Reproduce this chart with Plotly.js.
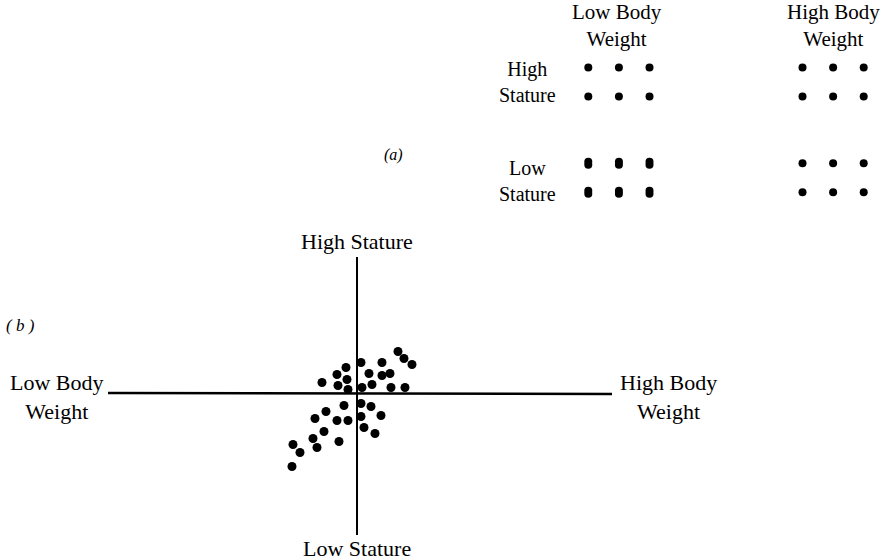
<!DOCTYPE html>
<html><head><meta charset="utf-8">
<script src="https://cdn.plot.ly/plotly-3.0.1.min.js"></script>
<style>html,body{margin:0;padding:0;background:#fff}</style>
</head><body><div id="chart" style="width:890px;height:560px"></div>
<script>
// ---------- Panel (a): schematic grid (column index, row index) ----------
const aLowWeightX  = [0,1,2, 0,1,2, 0,1,2, 0,1,2, 0,1,2, 0,1,2];
const aLowWeightY  = [4.3,4.3,4.3, 3.3,3.3,3.3, 1.05,1.05,1.05, 0.95,0.95,0.95, 0.05,0.05,0.05, -0.05,-0.05,-0.05];
const aHighWeightX = [7,8,9, 7,8,9, 7,8,9, 7,8,9];
const aHighWeightY = [4.3,4.3,4.3, 3.3,3.3,3.3, 1,1,1, 0,0,0];
const aWeightLabels  = ['Low Body<br>Weight', 'High Body<br>Weight'];
const aWeightLabelX  = [0.95, 8];
const aStatureLabels = ['High<br>Stature', 'Low<br>Stature'];
const aStatureLabelY = [3.8, 0.4];

// ---------- Panel (b): scatter (body weight vs stature, centred) ----------
const bWeight  = [4.1, 4.7, 5.5, 0.4, 2.5, -1.1, -2.0, -1.0, 1.2, 2.5, 3.3, -3.5, -1.9, -0.9, 0.5, 1.5, 3.4, 4.8,
                  -1.3, 0.4, 1.4, -3.1, -4.2, -2.0, -0.9, 0.4, 2.4, -3.3, 0.7, 1.8, -4.4, -1.8, -6.4, -4.0, -5.7, -6.5];
const bStature = [4.2, 3.5, 2.9, 3.1, 3.1, 2.6, 1.9, 1.4, 2.0, 1.8, 2.0, 1.1, 0.8, 0.4, 0.6, 0.9, 0.6, 0.6,
                  -1.2, -1.0, -1.3, -1.8, -2.5, -2.7, -2.7, -2.3, -2.2, -3.8, -3.4, -4.0, -4.5, -4.8, -5.1, -5.4, -5.9, -7.3];
const bWeightAxisEnds  = [-24.9, 25.5];
const bStatureAxisEnds = [-14.15, 13.65];
const bAxisLabels = ['High Stature', 'Low Stature', 'Low Body<br>Weight', 'High Body<br>Weight'];

const serif = 'Liberation Serif, Times New Roman, serif';
const ink = '#000';

const traces = [
  {x: bWeight, y: bStature, xaxis: 'x', yaxis: 'y', mode: 'markers', type: 'scatter',
   marker: {color: ink, size: 9}, hoverinfo: 'skip'},
  {x: aLowWeightX, y: aLowWeightY, xaxis: 'x2', yaxis: 'y2', mode: 'markers', type: 'scatter',
   marker: {color: ink, size: 8}, hoverinfo: 'skip'},
  {x: aHighWeightX, y: aHighWeightY, xaxis: 'x2', yaxis: 'y2', mode: 'markers', type: 'scatter',
   marker: {color: ink, size: 8}, hoverinfo: 'skip'}
];

const txt = (size, italic) => ({family: serif, size: size, color: ink, style: italic ? 'italic' : 'normal'});

const annotations = [
  // panel (b) axis labels
  {xref: 'x', yref: 'y', x: 0, y: bStatureAxisEnds[1] + 1.55, text: bAxisLabels[0], showarrow: false, font: txt(22), yanchor: 'middle'},
  {xref: 'x', yref: 'y', x: 0, y: bStatureAxisEnds[0] - 1.35, text: bAxisLabels[1], showarrow: false, font: txt(22), yanchor: 'middle'},
  {xref: 'x', yref: 'y', x: bWeightAxisEnds[0] - 5.1, y: -0.3, text: bAxisLabels[2], showarrow: false, font: txt(22), yanchor: 'middle'},
  {xref: 'x', yref: 'y', x: bWeightAxisEnds[1] + 5.6, y: -0.3, text: bAxisLabels[3], showarrow: false, font: txt(22), yanchor: 'middle'},
  // panel (a) labels
  {xref: 'x2', yref: 'y2', x: aWeightLabelX[0], y: 5.75, text: aWeightLabels[0], showarrow: false, font: txt(21), yanchor: 'middle'},
  {xref: 'x2', yref: 'y2', x: aWeightLabelX[1], y: 5.75, text: aWeightLabels[1], showarrow: false, font: txt(21), yanchor: 'middle'},
  {xref: 'x2', yref: 'y2', x: -2, y: aStatureLabelY[0], text: aStatureLabels[0], showarrow: false, font: txt(20), yanchor: 'middle'},
  {xref: 'x2', yref: 'y2', x: -2, y: aStatureLabelY[1], text: aStatureLabels[1], showarrow: false, font: txt(20), yanchor: 'middle'},
  // panel tags
  {xref: 'paper', yref: 'paper', x: 393/890, y: 1 - 155/560, xanchor: 'center', yanchor: 'middle', text: '(a)', showarrow: false, font: txt(16, true)},
  {xref: 'paper', yref: 'paper', x: 20/890, y: 1 - 325/560, xanchor: 'center', yanchor: 'middle', text: '( b )', showarrow: false, font: txt(17, true)}
];

const shapes = [
  {type: 'line', xref: 'x', yref: 'y', x0: bWeightAxisEnds[0], x1: bWeightAxisEnds[1], y0: 0.05, y1: -0.05,
   line: {color: ink, width: 2.5}},
  {type: 'line', xref: 'x', yref: 'y', x0: 0, x1: 0, y0: bStatureAxisEnds[0], y1: bStatureAxisEnds[1],
   line: {color: ink, width: 2}}
];

const hidden = {visible: false, showgrid: false, zeroline: false, fixedrange: true};
const layout = {
  width: 890, height: 560, autosize: false,
  margin: {l: 0, r: 0, t: 0, b: 0, pad: 0},
  paper_bgcolor: '#fff', plot_bgcolor: '#fff',
  showlegend: false,
  xaxis:  Object.assign({}, hidden, {domain: [0, 1], range: [-35.7, 53.3]}),
  yaxis:  Object.assign({}, hidden, {domain: [0, 1], range: [-16.65, 39.35]}),
  xaxis2: Object.assign({}, hidden, {overlaying: 'x', anchor: 'y2', range: [-19.225, 9.859]}),
  yaxis2: Object.assign({}, hidden, {overlaying: 'y', anchor: 'x2', range: [-12.68, 6.631]}),
  annotations: annotations,
  shapes: shapes
};

Plotly.newPlot('chart', traces, layout, {displayModeBar: false, staticPlot: true});
</script>
</body></html>
